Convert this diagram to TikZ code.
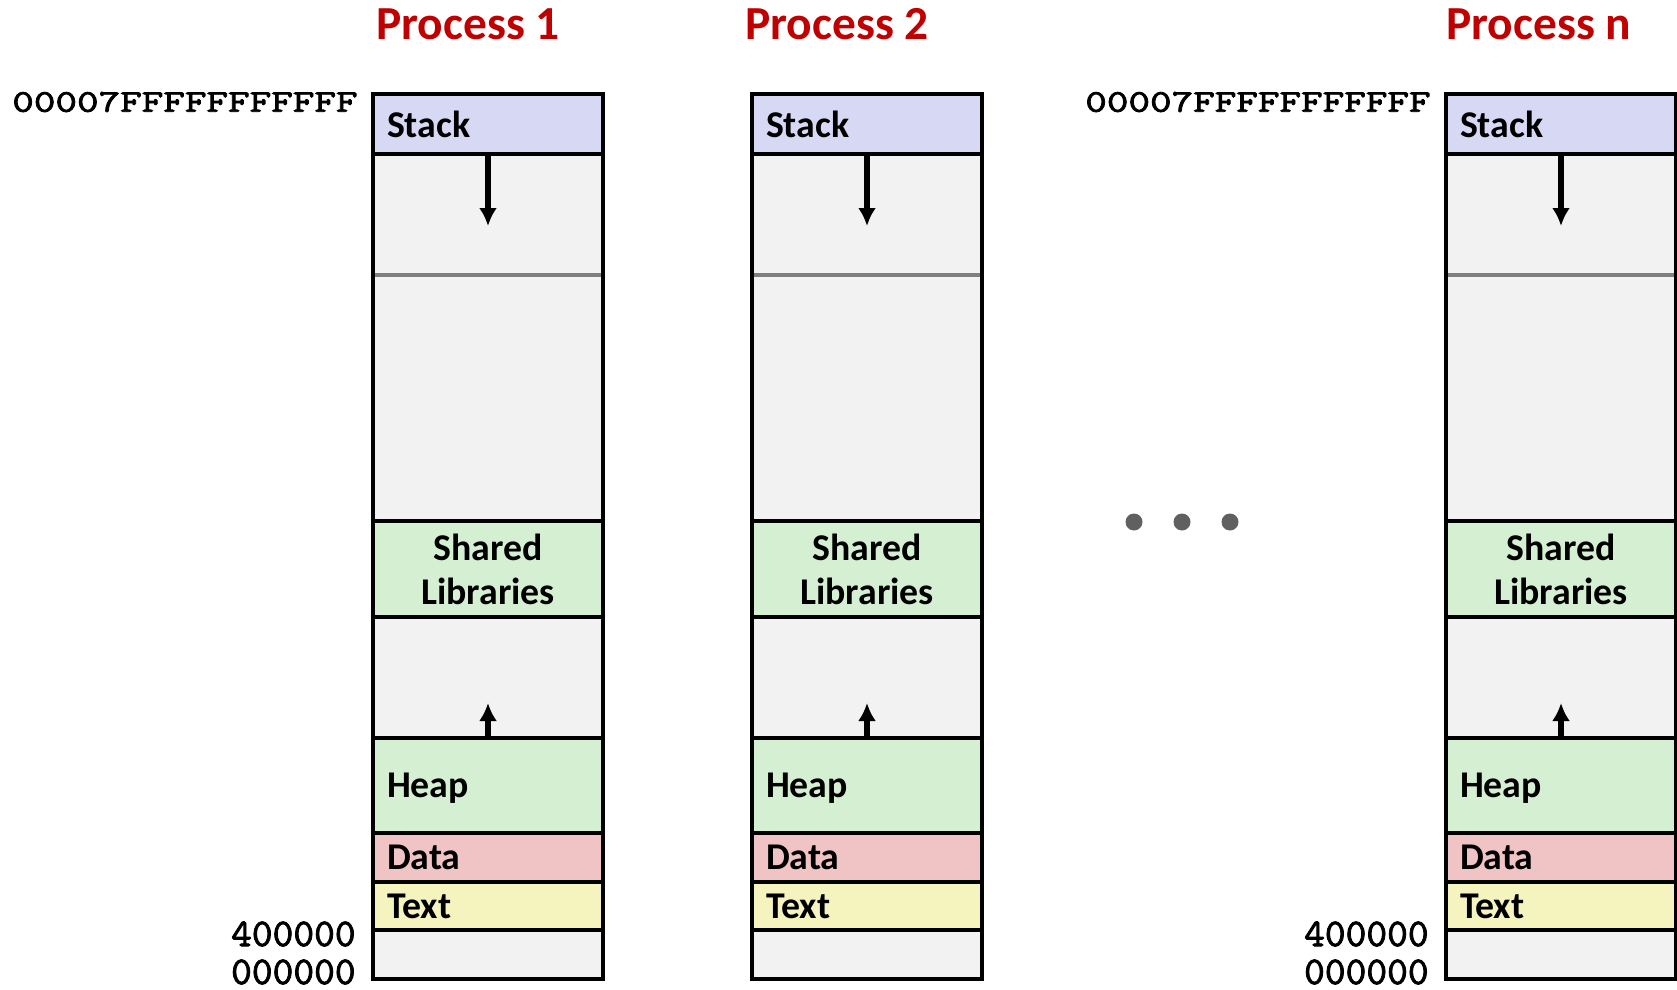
\documentclass[tikz,border=0pt]{standalone}
\usepackage{fontspec}
\setmainfont{Carlito}
\newfontfamily\addrmono{lmmono10-regular}[Extension=.otf, FakeBold=2]
\newfontfamily\addrwide{lmmono10-regular}[Extension=.otf, FakeBold=2.5, FakeStretch=1.3]
\usetikzlibrary{arrows.meta,positioning}
\definecolor{stackc}{RGB}{214,216,244}
\definecolor{libc}{RGB}{213,239,210}
\definecolor{datac}{RGB}{240,196,196}
\definecolor{textc}{RGB}{245,244,190}
\definecolor{freec}{RGB}{242,242,242}
\definecolor{titlec}{RGB}{192,0,0}
\definecolor{dotc}{RGB}{96,96,96}

\begin{document}
\begin{tikzpicture}[x=0.02cm,y=-0.02cm]

	\tikzstyle{every node}=[font=\fontsize{21.5}{25}\selectfont\bfseries]
	\tikzstyle{seg}=[draw, line width=2.3pt, minimum width=4.6cm, text width=4.04cm, inner sep=0pt, align=left]
	\tikzstyle{title}=[anchor=west, inner sep=0pt, text=titlec, font=\fontsize{27}{27}\selectfont\bfseries]
	\tikzstyle{addr}=[anchor=east, inner sep=0pt, font=\addrmono\fontsize{22.5}{22.5}\selectfont]
	\tikzstyle{topaddr}=[anchor=east, inner sep=0pt, font=\addrwide\fontsize{18}{18}\selectfont]
	\tikzstyle{arr}=[line width=3pt, -{Latex[length=0.36cm,width=0.36cm]}]

	\useasboundingbox (0,0) rectangle (1677,990);

	\foreach \cx/\tx/\n in {488/376/1, 867/745/2, 1561/1446/n} {
		\fill[freec] (\cx-115,94) rectangle (\cx+115,979);
		\draw[gray, line width=1.8pt] (\cx-115,275) -- (\cx+115,275);

		\node[title] (title\n) at (\tx,24) {Process \n};

		\node[seg, fill=stackc, minimum height=1.2cm] (stack\n) at (\cx,124) {Stack};
		\node[seg, fill=libc, minimum height=1.92cm, align=center] (lib\n) at (\cx,569) {Shared\\Libraries};
		\node[seg, fill=libc, minimum height=1.9cm, text depth=0pt] (heap\n) at (\cx,785.5) {Heap};
		\node[seg, fill=datac, minimum height=0.98cm] (data\n) at (\cx,857.5) {Data};
		\node[seg, fill=textc, minimum height=0.96cm] (text\n) at (\cx,906) {Text};

		\draw[line width=2.3pt] (\cx-115,94) rectangle (\cx+115,979);

		\coordinate (down\n) at (\cx,226);
		\coordinate (up\n) at (\cx,703);
		\draw[arr] (stack\n.south) -- (down\n);
		\draw[arr] (heap\n.north) -- (up\n);
	}

	% addresses
	\node[topaddr] (top1) at (358,102) {00007FFFFFFFFFFF};
	\node[addr] (low1) at (356,934) {400000};
	\node[addr] (zero1) at (356,972) {000000};
	\node[topaddr] (topn) at (1431,102) {00007FFFFFFFFFFF};
	\node[addr] (lown) at (1429,934) {400000};
	\node[addr] (zeron) at (1429,972) {000000};

	\foreach \dx in {1134,1182,1230}
		\fill[dotc] (\dx,522) circle (8.5);

\end{tikzpicture}
\end{document}
